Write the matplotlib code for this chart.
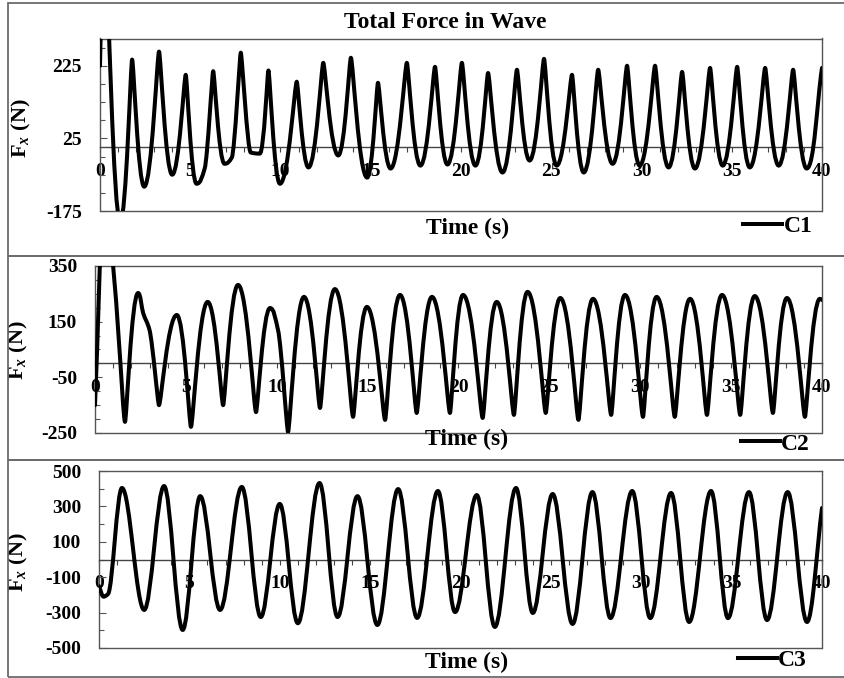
import matplotlib
matplotlib.use('Agg')
import matplotlib.pyplot as plt
from matplotlib.path import Path
from matplotlib.patches import PathPatch, Rectangle
from matplotlib.lines import Line2D
import numpy as np

# ---------------- data ----------------
t_c1 = [0.0, 0.12, 0.35, 1.12, 1.78, 2.45, 3.27, 4.0, 4.75, 5.35, 5.8, 6.27, 6.9, 7.3, 7.8, 8.35, 8.85,
        9.33, 9.97, 10.9, 11.55, 12.37, 13.2, 13.9, 14.8, 15.4, 16.1, 17.0, 17.75, 18.56, 19.25, 20.05,
        20.8, 21.5, 22.3, 23.1, 23.8, 24.6, 25.3, 26.15, 26.8, 27.6, 28.4, 29.2, 29.9, 30.75, 31.5,
        32.25, 32.96, 33.8, 34.5, 35.3, 36.0, 36.85, 37.6, 38.4, 39.15, 40.0]
f_c1 = [225, 480, 480, -205, 242, -108, 264, -75, 200, -100, -58, 210, -45, -28, 261, -14, -17,
        212, -100, 181, -55, 233, -22, 247, -83, 178, -58, 233, -50, 222, -47, 233,
        -50, 205, -69, 214, -36, 244, -50, 200, -69, 214, -45, 225, -50, 225, -55,
        208, -58, 219, -50, 222, -55, 219, -50, 214, -58, 219]

t_c2 = [0.0, 0.5, 1.65, 2.37, 2.65, 3.0, 3.52, 4.5, 5.28, 6.2, 7.05, 7.87, 8.86, 9.63, 10.07, 10.62,
        11.5, 12.38, 13.2, 14.2, 14.96, 15.96, 16.78, 17.7, 18.54, 19.53, 20.25, 21.33, 22.1, 23.05,
        23.8, 24.8, 25.6, 26.6, 27.4, 28.4, 29.16, 30.15, 30.9, 31.9, 32.74, 33.67, 34.5, 35.5, 36.3,
        37.3, 38.07, 39.06, 39.88, 40.0]
f_c2 = [-150, 520, -210, 253, 181, 120, -150, 174, -228, 221, -150, 282, -175, 199, 120, -246,
        239, -160, 267, -192, 203, -203, 246, -178, 239, -178, 246, -196, 221, -185,
        257, -178, 235, -203, 232, -185, 246, -192, 239, -192, 232, -185, 246, -185, 242,
        -178, 235, -192, 232, 228]

t_c3 = [0.0, 0.25, 0.5, 1.27, 2.5, 3.6, 4.63, 5.6, 6.7, 7.9, 8.95, 10.0, 11.0, 12.2, 13.2, 14.3, 15.4,
        16.55, 17.6, 18.75, 19.7, 20.9, 21.9, 23.07, 24.0, 25.1, 26.2, 27.3, 28.3, 29.5, 30.5, 31.65,
        32.65, 33.86, 34.8, 35.96, 36.96, 38.1, 39.17, 40.0]
f_c3 = [-150, -210, -195, 404, -285, 415, -398, 358, -285, 410, -325, 314, -360, 432, -325, 358, -370,
        398, -330, 387, -297, 364, -381, 404, -302, 370, -364, 381, -331, 387, -331, 376,
        -353, 387, -331, 381, -342, 381, -353, 291]

series_names = ["C1", "C2", "C3"]
y_limits = [(-175, 300), (-250, 350), (-500, 500)]
y_major = [[-175, 25, 225], [-250, -50, 150, 350], [-500, -300, -100, 100, 300, 500]]
y_minor_step = [50, 50, 100]
x_major = list(range(0, 41, 5))
title = "Total Force in Wave"
xlabel = "Time (s)"
ylabel = r"$\mathrm{F}_{x}$ (N)"

# ---------------- style ----------------
plt.rcParams['font.family'] = ['Liberation Serif', 'DejaVu Serif']
plt.rcParams['font.weight'] = 'bold'
plt.rcParams['axes.unicode_minus'] = False
plt.rcParams['mathtext.fontset'] = 'custom'
plt.rcParams['mathtext.rm'] = 'Liberation Serif:bold'
plt.rcParams['mathtext.bf'] = 'Liberation Serif:bold'
plt.rcParams['mathtext.it'] = 'Liberation Serif:italic'


def pchip_slopes(t, y):
    t = np.asarray(t, float)
    y = np.asarray(y, float)
    h = np.diff(t)
    d = np.diff(y) / h
    m = np.zeros_like(y)
    for i in range(1, len(y) - 1):
        if d[i - 1] * d[i] <= 0:
            m[i] = 0.0
        else:
            w1 = 2 * h[i] + h[i - 1]
            w2 = h[i] + 2 * h[i - 1]
            m[i] = (w1 + w2) / (w1 / d[i - 1] + w2 / d[i])
    m[0] = d[0]
    m[-1] = d[-1]
    return m


def smooth_path(t, y, h_max, h_min):
    """Smooth line through the data points (drawn as Bezier curves)."""
    t = np.asarray(t, float)
    y = np.asarray(y, float)
    m = pchip_slopes(t, y)
    n = len(t)
    frac = np.full(n, 1 / 3)
    for i in range(1, n - 1):
        if y[i] >= y[i - 1] and y[i] >= y[i + 1]:
            frac[i] = h_max
        elif y[i] <= y[i - 1] and y[i] <= y[i + 1]:
            frac[i] = h_min
    verts = [(t[0], y[0])]
    codes = [Path.MOVETO]
    for i in range(n - 1):
        dt = t[i + 1] - t[i]
        c1 = (t[i] + frac[i] * dt, y[i] + m[i] * frac[i] * dt)
        c2 = (t[i + 1] - frac[i + 1] * dt, y[i + 1] - m[i + 1] * frac[i + 1] * dt)
        verts += [c1, c2, (t[i + 1], y[i + 1])]
        codes += [Path.CURVE4] * 3
    return Path(verts, codes)


W, H = 845, 678
fig = plt.figure(figsize=(W / 100, H / 100), dpi=100)

# panel boxes (pixels): left, top, right, bottom of plot area
plot_boxes = [(100, 38.5, 822, 211), (95, 266, 822, 433), (99, 471, 822, 648)]
outer_boxes = [(8, 3, 850, 256), (8, 256, 850, 460), (8, 460, 850, 677)]
shape_params = [(0.12, 0.5), (0.5, 0.12), (0.36, 0.36)]
data = [(t_c1, f_c1), (t_c2, f_c2), (t_c3, f_c3)]
ylabel_coords = [(-0.093, 0.48), (-0.089, 0.497), (-0.095, 0.486)]
xlabel_px = [(468, 228), (467, 439), (467, 662)]
legend_px = [(778, 226), (775, 444), (772, 660)]

for (x0, y0, x1, y1) in outer_boxes:
    fig.patches.append(Rectangle((x0 / W, 1 - y1 / H), (x1 - x0) / W, (y1 - y0) / H,
                                 transform=fig.transFigure, fill=False, ec='#6b6b6b', lw=1.3))

for k in range(3):
    l, tp, r, b = plot_boxes[k]
    ax = fig.add_axes([l / W, 1 - b / H, (r - l) / W, (b - tp) / H])
    ax.set_xlim(0, 40)
    ax.set_ylim(*y_limits[k])
    ax.spines['bottom'].set_position(('data', 0))
    for s in ['left', 'top', 'right']:
        ax.spines[s].set_color('#555555')
        ax.spines[s].set_linewidth(1.0)
    ax.spines['bottom'].set_color('#444444')
    ax.spines['bottom'].set_linewidth(1.0)
    ax.add_patch(Rectangle((0, 0), 1, 0, transform=ax.transAxes, fill=False,
                           ec='#555555', lw=1.0, clip_on=False))
    ax.set_xticks(x_major)
    ax.set_xticks(range(0, 41), minor=True)
    ax.set_yticks(y_major[k])
    lo, hi = y_limits[k]
    ax.set_yticks(np.arange(y_major[k][0], hi + 1, y_minor_step[k]), minor=True)
    ax.tick_params(axis='x', which='both', direction='out', length=3.5, width=0.8, pad=7.5,
                   labelsize=14, color='#444444')
    ax.tick_params(axis='y', which='major', direction='in', length=5, width=0.8, pad=13,
                   labelsize=14, color='#555555')
    ax.tick_params(axis='y', which='minor', direction='in', length=3.5, width=0.8, color='#555555')
    for lab in ax.get_xticklabels() + ax.get_yticklabels():
        lab.set_fontweight('bold')

    t, f = data[k]
    hmax, hmin = shape_params[k]
    patch = PathPatch(smooth_path(t, f, hmax, hmin), fill=False, ec='black', lw=2.9,
                      joinstyle='round', capstyle='round', zorder=3)
    ax.add_patch(patch)

    ax.set_ylabel(ylabel, fontsize=16, fontweight='bold')
    ax.yaxis.set_label_coords(*ylabel_coords[k])

    fig.text(xlabel_px[k][0] / W, 1 - xlabel_px[k][1] / H, xlabel, ha='center', va='center',
             fontsize=17, fontweight='bold')
    handle = Line2D([], [], color='black', lw=2.9)
    ax.legend([handle], [series_names[k]], loc='center',
              bbox_to_anchor=((legend_px[k][0] - l) / (r - l), (b - legend_px[k][1]) / (b - tp)),
              frameon=False, handlelength=1.65, handletextpad=0.05, borderpad=0, borderaxespad=0,
              prop={'family': 'Liberation Serif', 'weight': 'bold', 'size': 17})

fig.text(445 / W, 1 - 23 / H, title, ha='center', va='center', fontsize=17, fontweight='bold')

fig.savefig('out.png', dpi=100)
